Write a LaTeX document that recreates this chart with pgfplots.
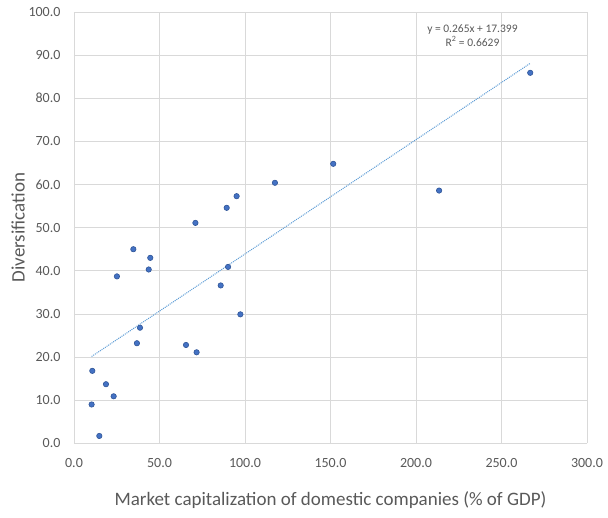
\documentclass[border=0pt]{standalone}
\usepackage{pgfplots}
\pgfplotsset{compat=1.18}
\usepackage{fontspec}
\setmainfont{Carlito}
\definecolor{ptfill}{RGB}{68,114,196}
\definecolor{ptdraw}{RGB}{47,85,151}
\definecolor{trend}{RGB}{91,155,213}
\definecolor{txt}{RGB}{89,89,89}
\definecolor{grd}{RGB}{217,217,217}
\begin{document}
\begin{tikzpicture}[x=1pt,y=1pt]
\useasboundingbox (0,0) rectangle (608,517);
\begin{axis}[
  at={(74pt,73.7pt)}, anchor=south west,
  scale only axis, width=513pt, height=431.3pt,
  xmin=0, xmax=300, ymin=0, ymax=100,
  xtick={0,50,...,300}, ytick={0,10,...,100},
  xticklabels={0.0,50.0,100.0,150.0,200.0,250.0,300.0},
  yticklabels={0.0,10.0,20.0,30.0,40.0,50.0,60.0,70.0,80.0,90.0,100.0},
  grid=major, major grid style={draw=grd, line width=0.8pt},
  axis line style={draw=none}, major tick length=0pt,
  ticklabel style={font=\fontsize{14}{16}\selectfont, text=txt},
  xticklabel style={yshift=-12pt},
  yticklabel style={xshift=-10pt},
  xlabel={Market capitalization of domestic companies (\% of GDP)},
  ylabel={Diversification},
  xlabel style={at={(axis description cs:0.5,-0.132)}, anchor=center, font=\fontsize{19}{22}\selectfont, text=txt},
  ylabel style={at={(axis description cs:-0.109,0.5)}, anchor=center, font=\fontsize{19}{22}\selectfont, text=txt},
  clip=false,
]
\addplot[trend, line width=1pt, dash pattern=on 1pt off 1pt] coordinates {(10.3,20.13) (266.8,88.10)};
\addplot[only marks, mark=*, mark size=2.7pt, mark options={fill=ptfill, draw=ptdraw, line width=0.6pt}] coordinates {
(117.5,60.4) (95.1,57.3) (89.3,54.6) (71.0,51.1) (34.7,45.0) (44.6,43.0) (43.7,40.3) (25.1,38.7)
(90.1,40.9) (85.8,36.6) (97.3,29.9) (38.6,26.8) (36.8,23.2) (65.5,22.8) (71.7,21.1) (10.7,16.8)
(18.7,13.7) (23.2,10.9) (10.3,9.0) (14.8,1.7) (151.6,64.8) (213.5,58.6) (266.8,85.9)
};
\node[font=\fontsize{11.5}{13.5}\selectfont, text=txt, align=center] at (axis cs:233,94.5) {y = 0.265x + 17.399\\R\textsuperscript{2} = 0.6629};
\end{axis}
\end{tikzpicture}
\end{document}
